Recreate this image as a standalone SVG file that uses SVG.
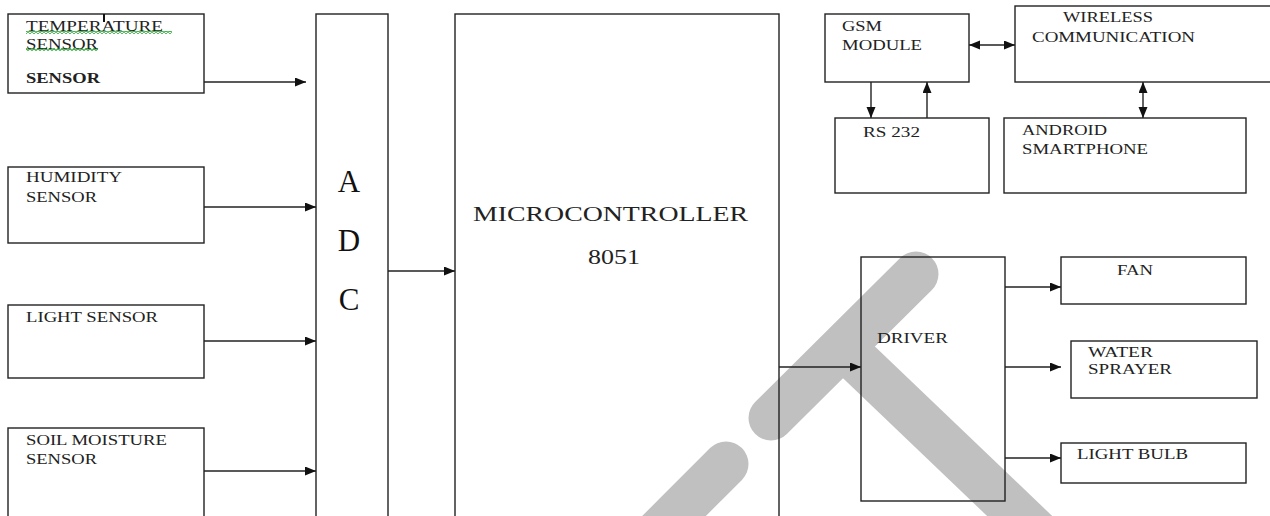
<svg xmlns="http://www.w3.org/2000/svg" width="1270" height="516" viewBox="0 0 1270 516">
<style>
.box{fill:none;stroke:#222;stroke-width:1.4}
.lbl{font-family:"Liberation Serif","Times New Roman",serif;font-size:15px;fill:#222}
.big{font-family:"Liberation Serif","Times New Roman",serif;font-size:20px;fill:#222}
.adc{font-family:"Liberation Serif","Times New Roman",serif;font-size:31px;fill:#111;text-anchor:middle}
.conn{fill:none;stroke:#222;stroke-width:1.4}
.arr{marker-end:url(#ah)}
.bi{marker-end:url(#ah);marker-start:url(#ah)}
.wm{fill:none;stroke:#c0c0c0;stroke-width:45}
</style>
<defs>
<marker id="ah" markerUnits="userSpaceOnUse" markerWidth="12" markerHeight="10" refX="11" refY="4.5" orient="auto-start-reverse">
<path d="M0,0 L11,4.5 L0,9 z" fill="#111"/>
</marker>
<pattern id="squig" patternUnits="userSpaceOnUse" width="4" height="3" x="0" y="0">
<path d="M0,2.5 L2,0.5 L4,2.5" fill="none" stroke="#2fa83a" stroke-width="1.2"/>
</pattern>
</defs>
<rect width="1270" height="516" fill="#fff"/>
<g id="watermark">
<line class="wm" x1="916" y1="274" x2="771" y2="418" stroke-linecap="round"/>
<line class="wm" x1="845" y1="349" x2="1050" y2="545"/>
<line class="wm" x1="726" y1="464" x2="650" y2="540" stroke-linecap="round"/>
</g>
<g id="connectors">
<line class="conn arr" x1="204" y1="82" x2="306" y2="82"/>
<line class="conn arr" x1="204" y1="207" x2="316" y2="207"/>
<line class="conn arr" x1="204" y1="341" x2="316" y2="341"/>
<line class="conn arr" x1="204" y1="471" x2="316" y2="471"/>
<line class="conn arr" x1="388" y1="271" x2="455" y2="271"/>
<line class="conn arr" x1="779" y1="367" x2="861" y2="367"/>
<line class="conn arr" x1="1005" y1="287" x2="1061" y2="287"/>
<line class="conn arr" x1="1005" y1="367" x2="1061" y2="367"/>
<line class="conn arr" x1="1005" y1="458" x2="1061" y2="458"/>
<line class="conn bi" x1="969" y1="45" x2="1015" y2="45"/>
<line class="conn arr" x1="871" y1="82" x2="871" y2="118"/>
<line class="conn arr" x1="927" y1="118" x2="927" y2="82"/>
<line class="conn bi" x1="1143" y1="82" x2="1143" y2="118"/>
</g>
<g id="temperature-sensor">
<rect class="box" x="8" y="14" width="196" height="79"/>
<line x1="104" y1="14" x2="104" y2="22" stroke="#111" stroke-width="2"/>
<rect x="26" y="31" width="146" height="3" fill="url(#squig)"/>
<rect x="26" y="48" width="72" height="3" fill="url(#squig)"/>
<text class="lbl" x="26" y="31" textLength="137" lengthAdjust="spacingAndGlyphs">TEMPERATURE</text>
<text class="lbl" x="26" y="49" textLength="72" lengthAdjust="spacingAndGlyphs">SENSOR</text>
<text class="lbl" x="26" y="83" font-weight="bold" textLength="74" lengthAdjust="spacingAndGlyphs">SENSOR</text>
</g>
<g id="humidity-sensor">
<rect class="box" x="8" y="167" width="196" height="76"/>
<text class="lbl" x="26" y="182" textLength="96" lengthAdjust="spacingAndGlyphs">HUMIDITY</text>
<text class="lbl" x="26" y="202" textLength="71" lengthAdjust="spacingAndGlyphs">SENSOR</text>
</g>
<g id="light-sensor">
<rect class="box" x="8" y="305" width="196" height="73"/>
<text class="lbl" x="26" y="322" textLength="132" lengthAdjust="spacingAndGlyphs">LIGHT SENSOR</text>
</g>
<g id="soil-moisture-sensor">
<rect class="box" x="8" y="428" width="196" height="92"/>
<text class="lbl" x="26" y="445" textLength="141" lengthAdjust="spacingAndGlyphs">SOIL MOISTURE</text>
<text class="lbl" x="26" y="464" textLength="71" lengthAdjust="spacingAndGlyphs">SENSOR</text>
</g>
<g id="adc">
<rect class="box" x="316" y="14" width="72" height="510"/>
<text class="adc" x="349" y="192">A</text>
<text class="adc" x="349" y="251">D</text>
<text class="adc" x="349" y="310">C</text>
</g>
<g id="microcontroller">
<rect class="box" x="455" y="14" width="324" height="510"/>
<text class="big" x="473" y="221" textLength="275" lengthAdjust="spacingAndGlyphs">MICROCONTROLLER</text>
<text class="big" x="588" y="264" textLength="52" lengthAdjust="spacingAndGlyphs">8051</text>
</g>
<g id="gsm-module">
<rect class="box" x="825" y="14" width="144" height="68"/>
<text class="lbl" x="842" y="31" textLength="40" lengthAdjust="spacingAndGlyphs">GSM</text>
<text class="lbl" x="842" y="50" textLength="80" lengthAdjust="spacingAndGlyphs">MODULE</text>
</g>
<g id="wireless-communication">
<rect class="box" x="1015" y="6" width="270" height="76"/>
<text class="lbl" x="1063" y="22" textLength="90" lengthAdjust="spacingAndGlyphs">WIRELESS</text>
<text class="lbl" x="1032" y="42" textLength="163" lengthAdjust="spacingAndGlyphs">COMMUNICATION</text>
</g>
<g id="rs232">
<rect class="box" x="835" y="118" width="154" height="75"/>
<text class="lbl" x="863" y="137" textLength="57" lengthAdjust="spacingAndGlyphs">RS 232</text>
</g>
<g id="android-smartphone">
<rect class="box" x="1004" y="118" width="242" height="75"/>
<text class="lbl" x="1022" y="135" textLength="85" lengthAdjust="spacingAndGlyphs">ANDROID</text>
<text class="lbl" x="1022" y="154" textLength="126" lengthAdjust="spacingAndGlyphs">SMARTPHONE</text>
</g>
<g id="driver">
<rect class="box" x="861" y="257" width="144" height="244"/>
<text class="lbl" x="877" y="343" textLength="71" lengthAdjust="spacingAndGlyphs">DRIVER</text>
</g>
<g id="fan">
<rect class="box" x="1061" y="257" width="185" height="47"/>
<text class="lbl" x="1117" y="275" textLength="36" lengthAdjust="spacingAndGlyphs">FAN</text>
</g>
<g id="water-sprayer">
<rect class="box" x="1071" y="341" width="186" height="57"/>
<text class="lbl" x="1088" y="357" textLength="65" lengthAdjust="spacingAndGlyphs">WATER</text>
<text class="lbl" x="1088" y="374" textLength="84" lengthAdjust="spacingAndGlyphs">SPRAYER</text>
</g>
<g id="light-bulb">
<rect class="box" x="1061" y="443" width="185" height="40"/>
<text class="lbl" x="1077" y="459" textLength="111" lengthAdjust="spacingAndGlyphs">LIGHT BULB</text>
</g>
</svg>
